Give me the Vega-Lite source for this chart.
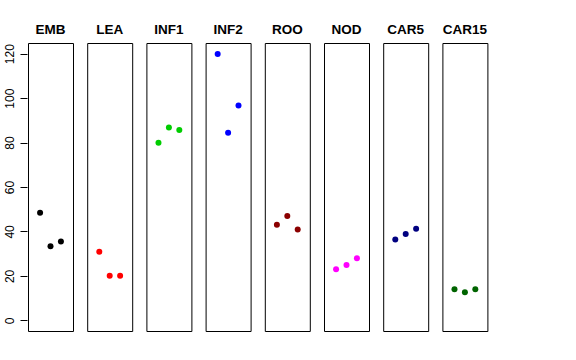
{
  "$schema": "https://vega.github.io/schema/vega-lite/v6.json",
  "padding": {"left": 3, "top": 22, "right": 5, "bottom": 5},
  "background": "white",
  "data": {"values": [
    {"tissue": "EMB", "rep": 1, "value": 48.4},
    {"tissue": "EMB", "rep": 2, "value": 33.3},
    {"tissue": "EMB", "rep": 3, "value": 35.5},
    {"tissue": "LEA", "rep": 1, "value": 30.9},
    {"tissue": "LEA", "rep": 2, "value": 20.1},
    {"tissue": "LEA", "rep": 3, "value": 20.1},
    {"tissue": "INF1", "rep": 1, "value": 79.9},
    {"tissue": "INF1", "rep": 2, "value": 86.8},
    {"tissue": "INF1", "rep": 3, "value": 85.6},
    {"tissue": "INF2", "rep": 1, "value": 119.9},
    {"tissue": "INF2", "rep": 2, "value": 84.4},
    {"tissue": "INF2", "rep": 3, "value": 96.7},
    {"tissue": "ROO", "rep": 1, "value": 43.0},
    {"tissue": "ROO", "rep": 2, "value": 46.9},
    {"tissue": "ROO", "rep": 3, "value": 40.9},
    {"tissue": "NOD", "rep": 1, "value": 23.0},
    {"tissue": "NOD", "rep": 2, "value": 24.9},
    {"tissue": "NOD", "rep": 3, "value": 27.9},
    {"tissue": "CAR5", "rep": 1, "value": 36.4},
    {"tissue": "CAR5", "rep": 2, "value": 38.8},
    {"tissue": "CAR5", "rep": 3, "value": 41.2},
    {"tissue": "CAR15", "rep": 1, "value": 14.0},
    {"tissue": "CAR15", "rep": 2, "value": 12.6},
    {"tissue": "CAR15", "rep": 3, "value": 14.0}
  ]},
  "facet": {
    "column": {
      "field": "tissue",
      "type": "nominal",
      "sort": ["EMB", "LEA", "INF1", "INF2", "ROO", "NOD", "CAR5", "CAR15"],
      "header": {
        "title": null,
        "labelFont": "Liberation Sans",
        "labelFontWeight": "bold",
        "labelFontSize": 13.5,
        "labelColor": "black",
        "labelPadding": 6
      }
    }
  },
  "spacing": 12.2,
  "spec": {
    "width": 45,
    "height": 288,
    "mark": {"type": "point", "filled": true, "opacity": 1, "size": 36},
    "encoding": {
      "x": {
        "field": "rep",
        "type": "quantitative",
        "scale": {"domain": [-0.16, 4.16], "nice": false, "zero": false},
        "axis": null
      },
      "y": {
        "field": "value",
        "type": "quantitative",
        "scale": {"domain": [-4.8, 124.8], "nice": false, "zero": false},
        "axis": {
          "title": null,
          "values": [0, 20, 40, 60, 80, 100, 120],
          "domain": false,
          "grid": false,
          "tickSize": 7,
          "tickColor": "black",
          "labelAngle": 270,
          "labelAlign": "center",
          "labelBaseline": "bottom",
          "labelPadding": 4,
          "labelFont": "Liberation Sans",
          "labelFontSize": 12,
          "labelColor": "black"
        }
      },
      "color": {
        "field": "tissue",
        "type": "nominal",
        "scale": {
          "domain": ["EMB", "LEA", "INF1", "INF2", "ROO", "NOD", "CAR5", "CAR15"],
          "range": ["#000000", "#FF0000", "#00CD00", "#0000FF", "#8B0000", "#FF00FF", "#000080", "#006400"]
        },
        "legend": null
      }
    }
  },
  "config": {
    "view": {"stroke": "black", "strokeWidth": 1}
  }
}
